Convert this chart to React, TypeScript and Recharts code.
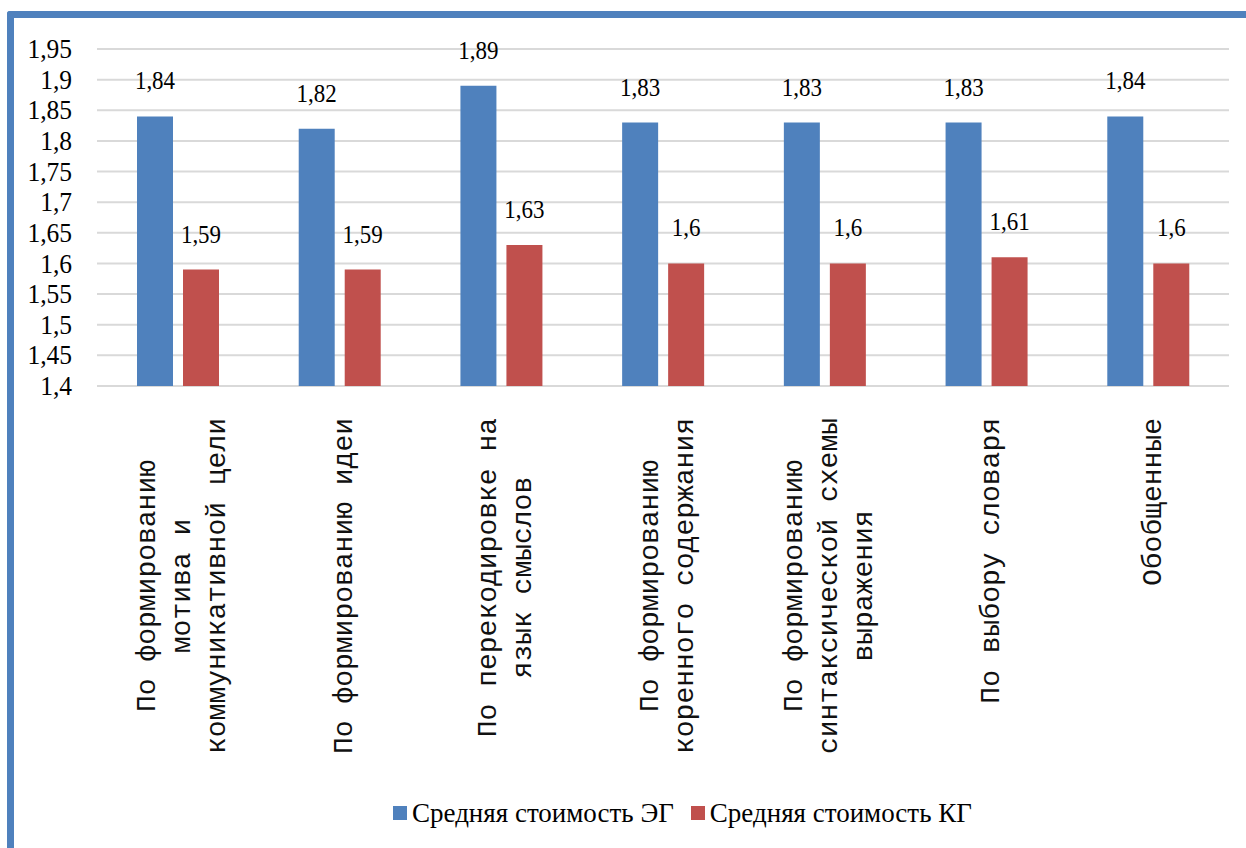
import React from 'react';
import { BarChart, Bar, XAxis, YAxis, CartesianGrid, Legend, LabelList } from 'recharts';

const categories: string[] = [
  'По формированию\nмотива и\nкоммуникативной цели',
  'По формированию идеи',
  'По перекодировке на\nязык смыслов',
  'По формированию\nкоренного содержания',
  'По формированию\nсинтаксической схемы\nвыражения',
  'По выбору словаря',
  'Обобщенные',
];

const seriesEG: number[] = [1.84, 1.82, 1.89, 1.83, 1.83, 1.83, 1.84];
const seriesKG: number[] = [1.59, 1.59, 1.63, 1.6, 1.6, 1.61, 1.6];

const yTicks: number[] = [1.4, 1.45, 1.5, 1.55, 1.6, 1.65, 1.7, 1.75, 1.8, 1.85, 1.9, 1.95];

const nameEG = 'Средняя стоимость ЭГ';
const nameKG = 'Средняя стоимость КГ';

const BLUE = '#4F81BD';
const RED = '#C0504D';

const data = categories.map((c, i) => ({ cat: c, eg: seriesEG[i], kg: seriesKG[i] }));

const fmt = (v: number) => String(v).replace('.', ',');

const SERIF = "'Liberation Serif', 'Times New Roman', 'DejaVu Serif', serif";

const YTick = (props: any) => {
  const { y, payload } = props;
  return (
    <g transform={`translate(72,${y})`}>
      <text
        transform="scale(1,1.05)"
        textAnchor="end"
        dy="0.34em"
        fontFamily={SERIF}
        fontSize={25.5}
        fill="#000"
      >
        {fmt(payload.value)}
      </text>
    </g>
  );
};

const XTick = (props: any) => {
  const { x, y, payload } = props;
  const lines: string[] = String(payload.value).split('\n');
  const n = lines.length;
  const fs = 28;
  const lh = 35;
  const capH = 19;
  const maxLen = Math.max(...lines.map((l) => l.length)) * fs * 0.6;
  const topOff = 32;
  const center = topOff + maxLen / 2;
  const base0 = (capH - (n - 1) * lh) / 2 + 3;
  return (
    <g transform={`translate(${x},${y})`}>
      <text
        transform="rotate(-90)"
        textAnchor="middle"
        fontFamily="'Liberation Mono', 'DejaVu Sans Mono', monospace"
        fontSize={fs}
        fill="#111"
      >
        {lines.map((l, i) => (
          <tspan key={i} x={-center} y={base0 + i * lh}>
            {l}
          </tspan>
        ))}
      </text>
    </g>
  );
};

const BarLabel = (props: any) => {
  const { x, y, width, value } = props;
  return (
    <g transform={`translate(${x + width / 2},${y - 27})`}>
      <text
        transform="scale(1,1.12)"
        textAnchor="middle"
        fontFamily={SERIF}
        fontSize={23}
        fill="#000"
      >
        {fmt(value)}
      </text>
    </g>
  );
};

const LegendContent = () => {
  const items = [
    { name: nameEG, color: BLUE },
    { name: nameKG, color: RED },
  ];
  return (
    <div
      style={{
        height: 70,
        display: 'flex',
        alignItems: 'center',
        justifyContent: 'flex-start',
        paddingLeft: 393,
        boxSizing: 'border-box',
        fontFamily: SERIF,
        fontSize: 27,
        color: '#000',
      }}
    >
      {items.map((it, i) => (
        <div key={i} style={{ display: 'flex', alignItems: 'center', marginRight: 17 }}>
          <div style={{ width: 14, height: 14, background: it.color, marginRight: 5 }} />
          <span style={{ lineHeight: '30px' }}>{it.name}</span>
        </div>
      ))}
    </div>
  );
};

export default function App() {
  return (
    <div
      style={{
        position: 'absolute',
        left: 0,
        top: 0,
        width: 1246,
        height: 848,
        background: '#fff',
        overflow: 'hidden',
      }}
    >
      <div
        style={{
          position: 'absolute',
          left: 7,
          top: 11,
          width: 1300,
          height: 900,
          borderTop: `7px solid ${BLUE}`,
          borderLeft: `7px solid ${BLUE}`,
          borderTopLeftRadius: 3,
        }}
      />
      <div style={{ position: 'absolute', left: 0, top: 0 }}>
        <BarChart
          width={1246}
          height={848}
          data={data}
          margin={{ top: 49, right: 17, bottom: 0, left: 0 }}
          barSize={36}
          barGap={10}
        >
          <CartesianGrid vertical={false} stroke="#D9D9D9" strokeWidth={2} />
          <XAxis
            dataKey="cat"
            interval={0}
            height={392}
            tickLine={false}
            axisLine={false}
            tickSize={0}
            tickMargin={0}
            tick={<XTick />}
          />
          <YAxis
            domain={[1.4, 1.95]}
            ticks={yTicks}
            width={97}
            tickLine={false}
            axisLine={false}
            tick={<YTick />}
            allowDataOverflow
          />
          <Legend verticalAlign="bottom" content={<LegendContent />} />
          <Bar dataKey="eg" name={nameEG} fill={BLUE} isAnimationActive={false}>
            <LabelList dataKey="eg" content={<BarLabel />} />
          </Bar>
          <Bar dataKey="kg" name={nameKG} fill={RED} isAnimationActive={false}>
            <LabelList dataKey="kg" content={<BarLabel />} />
          </Bar>
        </BarChart>
      </div>
    </div>
  );
}
